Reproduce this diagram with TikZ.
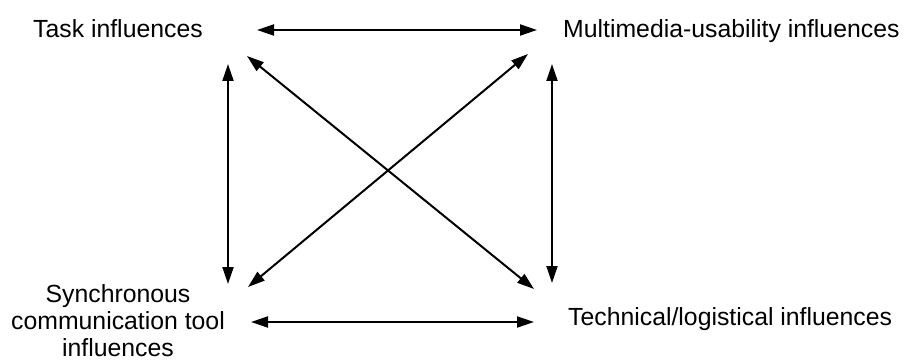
\documentclass[tikz,border=0pt]{standalone}
\usepackage{fontspec}
\setmainfont{Liberation Sans}
\usetikzlibrary{arrows.meta}
\begin{document}
\begin{tikzpicture}[x=1pt,y=-1pt,
  label text/.style={inner sep=0pt, font=\fontsize{24.8}{27}\selectfont},
  link/.style={line width=2pt, {Triangle[length=17pt,width=11pt]}-{Triangle[length=17pt,width=11pt]}}]
  \useasboundingbox (0,0) rectangle (906,361);

  % the four influence labels
  \node[label text, anchor=base west] (task) at (33,38) {Task influences};
  \node[label text, anchor=base west] (media) at (563,38) {Multimedia-usability influences};
  \node[label text, anchor=base west] (tech) at (568,325) {Technical/logistical influences};
  \node[label text, align=center] (sync) at (118,321) {Synchronous\\communication tool\\influences};

  % arrow end points around each label
  \coordinate (taskE) at (257,30);
  \coordinate (taskS) at (228,64);
  \coordinate (taskSE) at (247,56);
  \coordinate (mediaW) at (537,30);
  \coordinate (mediaS) at (552,64);
  \coordinate (mediaSW) at (528,54);
  \coordinate (syncE) at (251,322);
  \coordinate (syncN) at (228,284);
  \coordinate (syncNE) at (248,287);
  \coordinate (techW) at (534,322);
  \coordinate (techN) at (552,283);
  \coordinate (techNW) at (534,289);

  % mutual influences
  \draw[link] (taskE) -- (mediaW);
  \draw[link] (syncE) -- (techW);
  \draw[link] (taskS) -- (syncN);
  \draw[link] (mediaS) -- (techN);
  \draw[link] (taskSE) -- (techNW);
  \draw[link] (syncNE) -- (mediaSW);
\end{tikzpicture}
\end{document}
